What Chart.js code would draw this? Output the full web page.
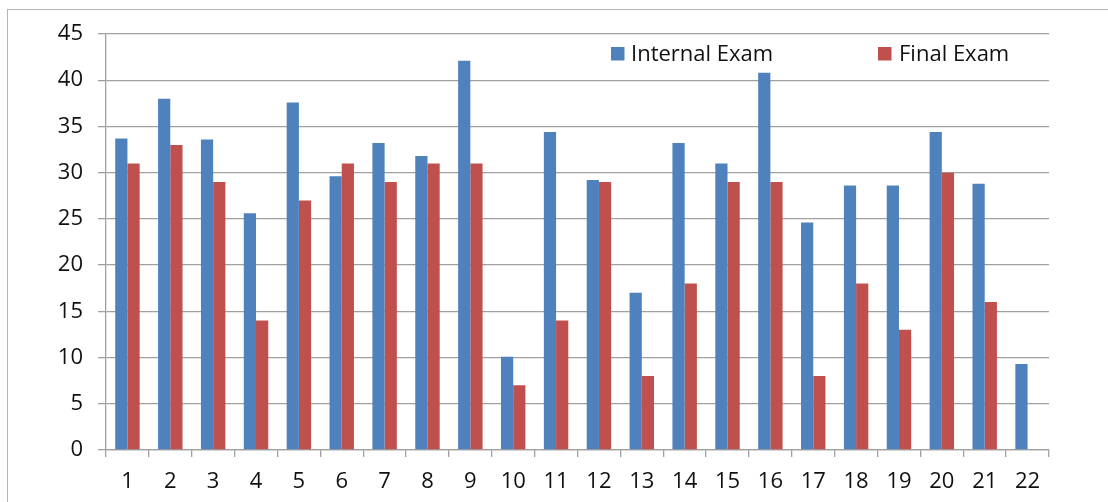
<!DOCTYPE html>
<html>
<head>
<meta charset="utf-8">
<script src="https://cdn.jsdelivr.net/npm/chart.js@4.4.1/dist/chart.umd.min.js"></script>
<style>
  html, body { margin: 0; padding: 0; background: #fff; }
  #wrap { position: relative; width: 1108px; height: 502px; overflow: hidden; }
  #frame { position: absolute; left: 7px; top: 9px; width: 1300px; height: 700px; border: 1.5px solid #b4b4b4; box-sizing: border-box; }
  canvas { position: absolute; left: 0; top: 0; }
</style>
</head>
<body>
<div id="wrap">
  <div id="frame"></div>
  <canvas id="c" width="1108" height="502"></canvas>
</div>
<script>
const categories = ["1","2","3","4","5","6","7","8","9","10","11","12","13","14","15","16","17","18","19","20","21","22"];
const internalExam = [33.7, 38.0, 33.6, 25.6, 37.6, 29.6, 33.2, 31.8, 42.1, 10.1, 34.4, 29.2, 17.0, 33.2, 31.0, 40.8, 24.6, 28.6, 28.6, 34.4, 28.8, 9.3];
const finalExam    = [31, 33, 29, 14, 27, 31, 29, 31, 31, 7, 14, 29, 8, 18, 29, 29, 8, 18, 13, 30, 16, null];
const seriesNames = ["Internal Exam", "Final Exam"];
const yTicks = [0, 5, 10, 15, 20, 25, 30, 35, 40, 45];

const FONT = "'Open Sans', 'DejaVu Sans', sans-serif";
const GRID = '#a0a0a0';

const legendPlugin = {
  id: 'customLegend',
  afterDraw(chart) {
    const ctx = chart.ctx;
    const items = [
      { box: 611, text: 631 },
      { box: 878, text: 899 }
    ];
    ctx.save();
    ctx.font = "22px " + FONT;
    ctx.textBaseline = 'alphabetic';
    ctx.textAlign = 'left';
    chart.data.datasets.forEach((ds, i) => {
      const it = items[i];
      ctx.fillStyle = ds.backgroundColor;
      ctx.fillRect(it.box, 47, 13.5, 13.5);
      ctx.fillStyle = '#111';
      ctx.fillText(ds.label, it.text, 61);
    });
    ctx.restore();
  }
};

new Chart(document.getElementById('c'), {
  type: 'bar',
  data: {
    labels: categories,
    datasets: [
      { label: seriesNames[0], data: internalExam, backgroundColor: '#4f81bd', categoryPercentage: 0.57, barPercentage: 1.0 },
      { label: seriesNames[1], data: finalExam, backgroundColor: '#c0504d', categoryPercentage: 0.57, barPercentage: 1.0 }
    ]
  },
  options: {
    responsive: false,
    animation: false,
    layout: { padding: { top: 34, right: 59, left: 0, bottom: 0 } },
    plugins: { legend: { display: false }, tooltip: { enabled: false } },
    scales: {
      x: {
        grid: { offset: true, drawOnChartArea: false, drawTicks: true, tickLength: 7, color: GRID, lineWidth: 1.3 },
        border: { display: true, color: GRID, width: 1.3 },
        ticks: { font: { family: FONT, size: 22 }, color: '#111', padding: 12, maxRotation: 0, autoSkip: false },
        afterFit(scale) { scale.height = 52; }
      },
      y: {
        min: 0, max: 45,
        afterBuildTicks(scale) { scale.ticks = yTicks.map(v => ({ value: v })); },
        grid: { color: GRID, lineWidth: 1.3, drawTicks: true, tickLength: 8 },
        border: { display: true, color: GRID, width: 1.3 },
        ticks: { font: { family: FONT, size: 22 }, color: '#111', padding: 15 },
        afterFit(scale) { scale.width = 106; }
      }
    }
  },
  plugins: [legendPlugin]
});
</script>
</body>
</html>
